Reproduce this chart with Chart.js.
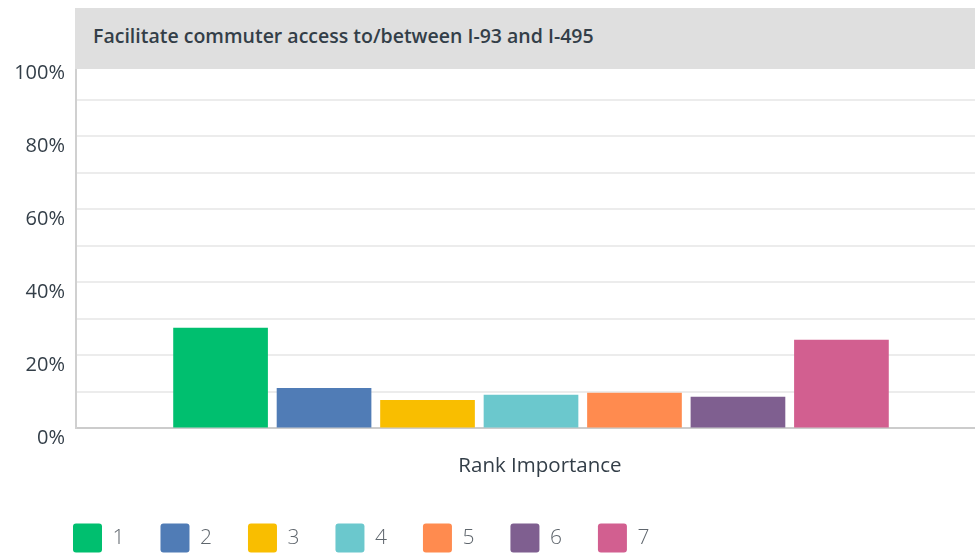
<!DOCTYPE html>
<html>
<head>
<meta charset="utf-8">
<script src="https://cdn.jsdelivr.net/npm/chart.js@4/dist/chart.umd.min.js"></script>
<style>
  html, body { margin: 0; padding: 0; background: #fff; overflow: hidden; }
  #wrap { position: relative; width: 975px; height: 555px; overflow: hidden; }
  #c { position: absolute; left: 0; top: 0; }
  #titlebar { position: absolute; left: 75px; top: 8px; width: 900px; height: 61px; background: #dfdfdf;
    font-family: "Open Sans", sans-serif; font-weight: 600; font-size: 19.5px; color: #333e48;
    box-sizing: border-box; padding-left: 18px; line-height: 56px; white-space: nowrap; }
</style>
</head>
<body>
<div id="wrap">
  <canvas id="c" width="986" height="555"></canvas>
  <div id="titlebar">Facilitate commuter access to/between I-93 and I-495</div>
</div>
<script>
const categories = ['Rank Importance'];
const seriesNames = ['1', '2', '3', '4', '5', '6', '7'];
const seriesValues = [27.6, 11.1, 7.8, 9.2, 9.8, 8.7, 24.3];
const seriesColors = ['#00bf6f', '#507cb6', '#f9be00', '#6bc8cd', '#ff8b4f', '#7f5f90', '#d25f90'];
const yTickLabels = ['0%', '20%', '40%', '60%', '80%', '100%'];

const datasets = seriesNames.map((n, i) => ({
  label: n,
  data: [seriesValues[i]],
  backgroundColor: seriesColors[i],
  borderWidth: 0,
  borderRadius: 0,
  categoryPercentage: 0.796,
  barPercentage: 0.915
}));

const FONT = '"Open Sans", sans-serif';

// shift the legend block to sit where the reference places it
const legendPlace = {
  id: 'legendPlace',
  afterLayout(chart) {
    const lg = chart.legend;
    if (!lg) return;
    const dx = 73 - (lg.left + lg.options.labels.padding);
    const dy = 523.5 - (lg.top + lg.options.labels.padding);
    lg.left += dx; lg.right += dx;
    lg.top += dy; lg.bottom += dy;
  }
};

new Chart(document.getElementById('c'), {
  type: 'bar',
  data: { labels: categories, datasets },
  plugins: [legendPlace],
  options: {
    responsive: false,
    animation: false,
    layout: { padding: { top: 63.5, right: 0, left: 0, bottom: -23 } },
    plugins: {
      title: { display: false },
      tooltip: { enabled: false },
      legend: {
        position: 'bottom',
        align: 'start',
        labels: {
          boxWidth: 29,
          boxHeight: 29,
          useBorderRadius: true,
          borderRadius: 3,
          padding: 36,
          color: '#5f666d',
          font: { family: FONT, size: 21, weight: 300 }
        }
      }
    },
    scales: {
      x: {
        grid: { display: false, drawTicks: false },
        border: { color: '#cccccc', width: 2 },
        ticks: { color: '#333e48', font: { family: FONT, size: 20.5 }, padding: 25, labelOffset: 9 }
      },
      y: {
        min: 0, max: 100,
        afterFit: (s) => { s.width = 76; },
        grid: { color: '#ececec', lineWidth: 2, drawTicks: false },
        border: { color: '#d0d0d0', width: 2 },
        ticks: {
          stepSize: 10,
          padding: 11,
          labelOffset: 10,
          color: '#333e48',
          font: { family: FONT, size: 20 },
          callback: (v) => (v % 20 === 0 ? yTickLabels[v / 20] : '')
        }
      }
    }
  }
});
</script>
</body>
</html>
